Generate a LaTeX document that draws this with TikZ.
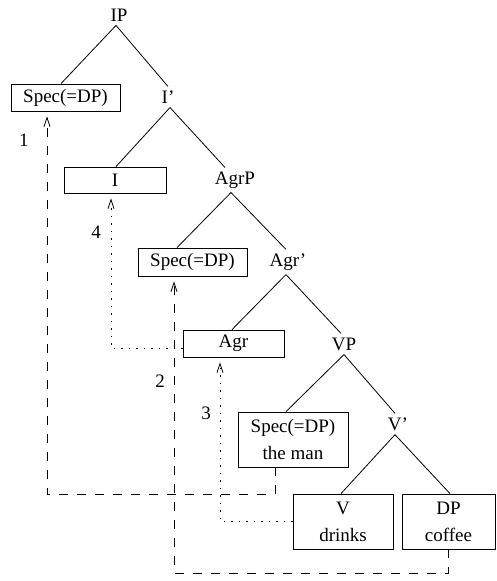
\documentclass[tikz,border=0pt]{standalone}
\usepackage{fontspec}
\setmainfont{Liberation Serif}
\usetikzlibrary{arrows.meta}
\begin{document}
\begin{tikzpicture}[x=1pt,y=-1pt,
  every node/.style={font=\fontsize{19}{28}\selectfont, inner sep=1.5pt},
  lbl/.style={inner sep=4pt},
  cat/.style={draw, line width=0.8pt, inner sep=0pt, align=center},
  branch/.style={line width=0.8pt},
  mv/.style={line width=0.8pt, -{Straight Barb[length=9pt,width=6pt,line width=0.8pt]}, shorten >=5pt},
  longmv/.style={mv, dash pattern=on 9pt off 9pt},
  headmv/.style={mv, dash pattern=on 1.5pt off 6pt}]
\useasboundingbox (0,0) rectangle (496,581);

% tree labels
\node[lbl] (ip)   at (119,15)  {IP};
\node[lbl] (ibar) at (168,97)  {I’};
\node[lbl] (agrp) at (235,180) {AgrP};
\node[lbl] (agrbar) at (288,262) {Agr’};
\node[lbl] (vp)   at (344,344) {VP};
\node[lbl] (vbar) at (398,424) {V’};

% boxed positions
\node[cat, minimum width=109pt, minimum height=27pt] (specone) at (65.5,97.5) {Spec(=DP)};
\node[cat, minimum width=102pt, minimum height=26pt] (ihead) at (115,180) {I};
\node[cat, minimum width=109pt, minimum height=28pt] (spectwo) at (192.5,262) {Spec(=DP)};
\node[cat, minimum width=101pt, minimum height=27pt] (agr) at (233.5,343.5) {Agr};
\node[cat, minimum width=110pt, minimum height=55pt] (specthree) at (293,439.5) {Spec(=DP)\\[-1pt]the man};
\node[cat, minimum width=100pt, minimum height=55pt] (vhead) at (343,521.5) {V\\[-1pt]drinks};
\node[cat, minimum width=93pt, minimum height=55pt] (dp) at (448.5,521.5) {DP\\[-1pt]coffee};

% branches
\draw[branch] ([xshift=-3pt]ip.south) -- ([xshift=-4.5pt]specone.north);
\draw[branch] ([xshift=-3pt]ip.south) -- (ibar.north);
\draw[branch] ([xshift=2pt]ibar.south) -- ([xshift=1pt]ihead.north);
\draw[branch] ([xshift=2pt]ibar.south) -- ([xshift=-10pt]agrp.north);
\draw[branch] ([xshift=-4pt]agrp.south) -- ([xshift=-15.5pt]spectwo.north);
\draw[branch] ([xshift=-4pt]agrp.south) -- ([xshift=-2pt]agrbar.north);
\draw[branch] ([xshift=-2pt]agrbar.south) -- ([xshift=-1.5pt]agr.north);
\draw[branch] ([xshift=-2pt]agrbar.south) -- ([xshift=-3pt]vp.north);
\draw[branch] (vp.south) -- ([xshift=-7pt]specthree.north);
\draw[branch] (vp.south) -- ([xshift=-3pt]vbar.north);
\draw[branch] ([xshift=-3pt]vbar.south) -- ([xshift=-2pt]vhead.north);
\draw[branch] ([xshift=-3pt]vbar.south) -- ([xshift=1.5pt]dp.north);

% movement paths
\draw[longmv] ([xshift=-18pt]specthree.south) -- ++(0,27) -| ([xshift=-18.5pt]specone.south);
\draw[longmv] ([xshift=-0.5pt]dp.south) -- ++(0,24) -| ([xshift=-18.5pt]spectwo.south);
\draw[headmv] (vhead.west) -| ([xshift=-13.5pt]agr.south);
\draw[headmv] ([yshift=-4.5pt]agr.west) -| ([xshift=-4pt]ihead.south);

% step numbers
\node (n1) at (24,140)  {1};
\node (n4) at (96,232)  {4};
\node (n2) at (160,381) {2};
\node (n3) at (206,413) {3};
\end{tikzpicture}
\end{document}
